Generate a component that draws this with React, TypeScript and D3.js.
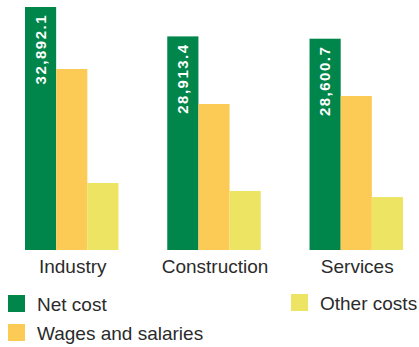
import React from 'react'
import * as d3 from 'd3'

// Categories and series (values in the chart's own units)
const categories = ['Industry', 'Construction', 'Services']
const seriesNames = ['Net cost', 'Wages and salaries', 'Other costs']
const netCost = [32892.1, 28913.4, 28600.7]
const wages = [24500, 19760, 20840]
const otherCosts = [9070, 7990, 7170]
const netCostLabels = ['32,892.1', '28,913.4', '28,600.7']

const colors = ['#00854a', '#fccb55', '#eee464']

const width = 419
const height = 347
const baseline = 250
const plotTop = 7

export default function App() {
  const series = [netCost, wages, otherCosts]

  const x0 = d3.scaleBand<string>()
    .domain(categories)
    .range([25, 403])
    .paddingInner(0.343)
    .paddingOuter(0)

  const x1 = d3.scaleBand<string>()
    .domain(seriesNames)
    .range([0, x0.bandwidth()])
    .padding(0)

  const maxVal = d3.max(netCost) || 1
  const y = d3.scaleLinear()
    .domain([0, maxVal])
    .range([baseline, plotTop])

  const textColor = '#2b2b2b'
  const font = '"Liberation Sans", Arial, sans-serif'

  return (
    <svg
      width={width}
      height={height}
      style={{ position: 'absolute', left: 0, top: 0, background: '#fff' }}
    >
      {categories.map((cat, i) => (
        <g key={cat} transform={`translate(${x0(cat)},0)`}>
          {seriesNames.map((name, s) => {
            const v = series[s][i]
            return (
              <rect
                key={name}
                x={x1(name)}
                y={y(v)}
                width={x1.bandwidth()}
                height={baseline - y(v)}
                fill={colors[s]}
              />
            )
          })}
          {/* value label inside the net cost bar */}
          <text
            transform={`translate(${(x1(seriesNames[0]) || 0) + x1.bandwidth() / 2 + 5},${y(netCost[i]) + 7}) rotate(-90)`}
            textAnchor="end"
            fill="#fff"
            fontFamily={font}
            fontWeight="bold"
            fontSize={15}
            letterSpacing={1.5}
          >
            {netCostLabels[i]}
          </text>
          <text
            x={x0.bandwidth() / 2 + 1}
            y={273}
            textAnchor="middle"
            fill={textColor}
            fontFamily={font}
            fontSize={19}
          >
            {cat}
          </text>
        </g>
      ))}

      {/* legend */}
      {[
        { name: seriesNames[0], c: colors[0], lx: 8, ly: 295 },
        { name: seriesNames[1], c: colors[1], lx: 8, ly: 324 },
        { name: seriesNames[2], c: colors[2], lx: 291, ly: 294 }
      ].map(d => (
        <g key={d.name} transform={`translate(${d.lx},${d.ly})`}>
          <rect width={17} height={17} fill={d.c} />
          <text
            x={29}
            y={16}
            fill={textColor}
            fontFamily={font}
            fontSize={19}
          >
            {d.name}
          </text>
        </g>
      ))}
    </svg>
  )
}
